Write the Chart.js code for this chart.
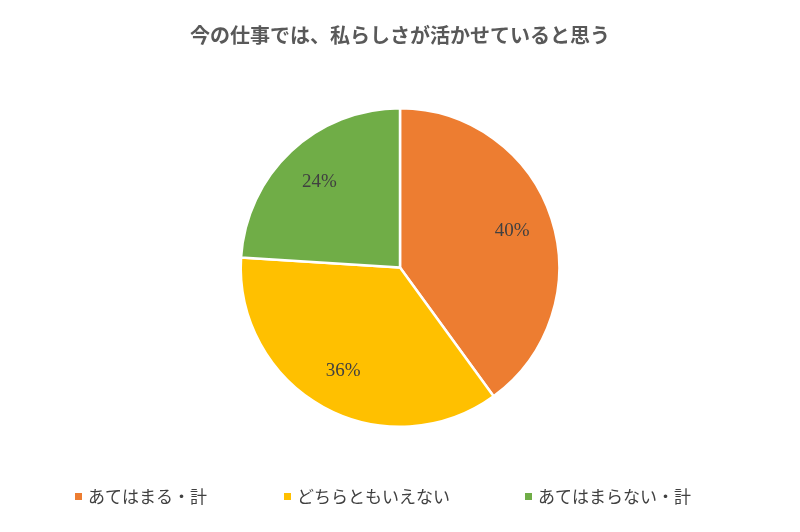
<!DOCTYPE html>
<html>
<head>
<meta charset="utf-8">
<script src="https://cdn.jsdelivr.net/npm/chart.js@4/dist/chart.umd.min.js"></script>
<style>
  html, body { margin: 0; padding: 0; background: #fff; }
  #wrap { width: 800px; height: 532px; }
</style>
</head>
<body>
<div id="wrap"><canvas id="pie"></canvas></div>
<script>
// Pie chart: 今の仕事では、私らしさが活かせていると思う

const titleText = '今の仕事では、私らしさが活かせていると思う';
const categories = ['あてはまる・計', 'どちらともいえない', 'あてはまらない・計'];
const shares = [40, 36, 24];
const colors = ['#ED7D31', '#FFC000', '#70AD47'];
const legendX = [75, 284, 525];

const labelPlugin = {
  id: 'labelsAndLegend',
  afterDatasetsDraw(chart) {
    const { ctx } = chart;
    const meta = chart.getDatasetMeta(0);
    ctx.save();
    ctx.font = '19px "Liberation Serif", serif';
    ctx.fillStyle = '#404040';
    ctx.textAlign = 'center';
    ctx.textBaseline = 'middle';
    meta.data.forEach((arc, i) => {
      const mid = (arc.startAngle + arc.endAngle) / 2;
      const r = arc.outerRadius * 0.74;
      ctx.fillText(`${shares[i]}%`, arc.x + Math.cos(mid) * r, arc.y + Math.sin(mid) * r);
    });

    // title
    ctx.font = 'bold 20px "Noto Sans CJK JP", sans-serif';
    ctx.fillStyle = '#595959';
    ctx.fillText(titleText, 400, 35);

    // legend
    ctx.font = '17px "Noto Sans CJK JP", sans-serif';
    ctx.textAlign = 'left';
    categories.forEach((name, i) => {
      ctx.fillStyle = colors[i];
      ctx.fillRect(legendX[i], 493, 7, 7);
      ctx.fillStyle = '#404040';
      ctx.fillText(name, legendX[i] + 13, 497);
    });
    ctx.restore();
  },
};

const ctx = document.getElementById('pie').getContext('2d');

// eslint-disable-next-line no-unused-vars
const chart = new Chart(ctx, {
  type: 'pie',
  data: {
    labels: categories,
    datasets: [{
      data: shares,
      backgroundColor: colors,
      borderColor: '#ffffff',
      borderWidth: 2.5,
    }],
  },
  options: {
    responsive: true,
    maintainAspectRatio: false,
    animation: false,
    layout: { padding: { top: 107, bottom: 104 } },
    plugins: {
      legend: { display: false },
      tooltip: { enabled: false },
    },
  },
  plugins: [labelPlugin],
});
</script>
</body>
</html>
